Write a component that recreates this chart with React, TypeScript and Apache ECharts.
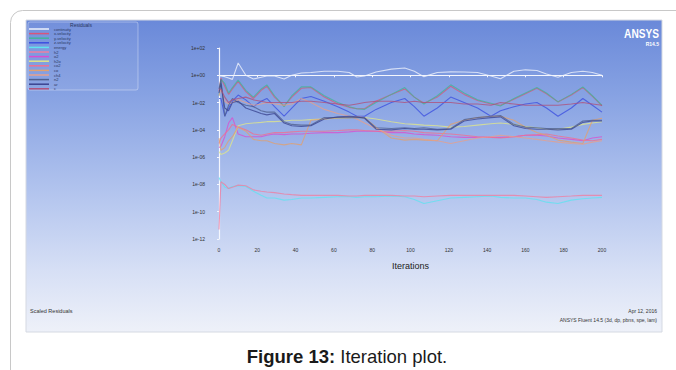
import React, { useEffect, useRef } from "react";
import * as echarts from "echarts";

// Iteration numbers at which residuals were read
const ITER = [0, 1, 3, 5, 7, 10, 14, 18, 22, 25, 29, 34, 38, 43, 48, 55, 62, 68, 72, 76, 82, 90, 97, 102, 107, 114, 121, 128, 135, 142, 147, 154, 160, 166, 171, 177, 184, 190, 195, 200];

// Residual values as log10 exponents
const continuity = [-0.05, -0.05, -0.1, -0.2, -0.3, 0.9, 0.0, -0.27, -0.15, -0.05, -0.05, -0.27, 0.0, 0.17, 0.2, 0.3, 0.3, 0.2, -0.13, -0.05, 0.24, 0.45, 0.53, 0.3, -0.1, 0.2, 0.25, 0.24, 0.2, -0.05, -0.25, 0.3, 0.4, 0.35, 0.1, -0.15, 0.2, 0.3, 0.2, 0.0];
const xVelocity = [-1.2, -0.2, -0.8, -1.4, -1.0, -0.45, -1.2, -1.7, -1.1, -0.8, -1.6, -2.25, -1.6, -0.95, -0.9, -1.6, -2.1, -2.35, -2.45, -2.45, -1.9, -1.4, -1.0, -1.6, -2.05, -1.6, -0.8, -1.4, -1.85, -2.1, -2.2, -1.75, -1.35, -0.95, -1.35, -1.95, -1.45, -0.9, -1.55, -2.25];
const yVelocity = [-1.5, -0.3, -0.6, -1.3, -0.9, -0.35, -1.1, -1.6, -1.0, -0.7, -1.5, -2.3, -1.5, -0.85, -0.85, -1.5, -2.0, -2.3, -2.45, -2.5, -2.0, -1.4, -0.9, -1.6, -2.1, -1.5, -0.7, -1.3, -1.8, -2.05, -2.25, -1.7, -1.3, -0.9, -1.3, -1.95, -1.4, -0.85, -1.5, -2.2];
const zVelocity = [-1.7, -1.7, -3.0, -2.4, -1.9, -1.45, -1.8, -2.3, -1.9, -1.7, -2.3, -3.0, -2.4, -1.7, -1.55, -1.9, -2.3, -2.7, -3.0, -3.0, -2.5, -2.0, -1.7, -2.3, -3.0, -2.4, -1.6, -2.0, -2.4, -3.0, -2.6, -2.3, -2.1, -2.0, -2.4, -3.0, -2.4, -1.7, -2.2, -2.7];
const energy = [-7.5, -7.8, -8.2, -8.3, -8.15, -8.1, -8.15, -8.5, -8.8, -9.0, -9.0, -9.15, -9.1, -9.0, -9.0, -8.95, -8.9, -8.9, -8.95, -8.9, -8.9, -8.85, -8.9, -9.1, -9.4, -9.2, -9.0, -8.95, -8.9, -8.85, -8.95, -9.0, -9.0, -9.1, -9.3, -9.4, -9.15, -9.05, -9.0, -8.95];
const h2 = [-11.3, -7.8, -8.0, -8.3, -8.2, -8.05, -8.1, -8.4, -8.5, -8.55, -8.6, -8.7, -8.75, -8.8, -8.8, -8.8, -8.8, -8.85, -8.85, -8.8, -8.8, -8.8, -8.85, -8.85, -8.9, -8.85, -8.8, -8.8, -8.8, -8.8, -8.8, -8.8, -8.85, -8.9, -8.95, -8.9, -8.85, -8.8, -8.8, -8.8];
const o2 = [-5.3, -5.2, -4.5, -3.5, -3.1, -4.3, -4.5, -4.5, -4.5, -4.4, -4.3, -4.35, -4.3, -4.3, -4.25, -4.2, -4.2, -4.15, -4.1, -4.1, -4.1, -4.2, -4.2, -4.3, -4.35, -4.4, -4.5, -4.55, -4.55, -4.55, -4.55, -4.5, -4.4, -4.4, -4.45, -4.6, -4.7, -4.8, -4.6, -4.5];
const h2o = [-5.6, -5.8, -5.7, -5.5, -4.8, -3.7, -3.55, -3.5, -3.45, -3.4, -3.4, -3.35, -3.3, -3.3, -3.25, -3.2, -3.15, -3.1, -3.1, -3.1, -3.2, -3.4, -3.55, -3.6, -3.65, -3.7, -3.8, -3.75, -3.65, -3.55, -3.5, -3.6, -3.75, -3.85, -3.95, -3.95, -3.8, -3.6, -3.5, -3.4];
const co2 = [-5.0, -4.6, -4.3, -4.0, -3.6, -3.8, -4.0, -4.3, -4.4, -4.3, -4.2, -4.2, -4.15, -4.1, -4.1, -4.1, -4.05, -4.0, -4.0, -4.05, -4.1, -4.1, -4.05, -4.1, -4.2, -4.25, -4.3, -4.4, -4.5, -4.55, -4.6, -4.5, -4.4, -4.35, -4.3, -4.45, -4.6, -4.75, -4.8, -4.7];
const co = [-4.6, -5.5, -5.3, -4.8, -4.5, -3.8, -4.1, -4.7, -4.8, -4.8, -5.0, -5.1, -5.0, -5.1, -3.3, -3.2, -3.1, -3.1, -3.05, -3.1, -3.8, -4.6, -4.75, -4.7, -4.75, -4.8, -3.6, -3.3, -3.1, -3.0, -3.0, -3.3, -3.8, -4.2, -4.4, -4.75, -4.9, -5.0, -3.3, -3.15];
const ch4 = [-1.5, -1.0, -1.9, -2.1, -2.0, -1.8, -2.0, -2.2, -2.1, -2.0, -2.1, -2.2, -2.1, -1.7, -2.0, -2.5, -2.8, -3.0, -3.2, -3.5, -3.9, -4.4, -4.6, -4.6, -4.7, -4.8, -5.0, -4.8, -4.6, -4.5, -4.4, -4.5, -4.6, -4.7, -4.8, -4.9, -5.0, -5.05, -4.9, -4.8];
const n2 = [-1.0, -0.3, -3.0, -2.2, -1.7, -2.0, -2.2, -2.3, -2.6, -2.7, -2.7, -3.4, -3.6, -3.65, -3.65, -3.1, -3.1, -3.1, -3.1, -3.1, -3.85, -3.9, -3.85, -3.9, -3.85, -3.95, -3.9, -3.25, -3.1, -3.0, -2.95, -3.6, -3.8, -3.85, -3.9, -3.9, -3.9, -3.35, -3.3, -3.3];
const ar = [-1.3, -0.6, -2.4, -2.6, -2.0, -1.9, -2.4, -2.6, -2.8, -2.9, -2.8, -3.5, -3.7, -3.75, -3.7, -3.2, -3.05, -3.0, -3.05, -3.15, -3.95, -4.0, -3.9, -3.95, -3.95, -4.0, -3.95, -3.35, -3.2, -3.1, -3.05, -3.7, -3.9, -3.95, -3.95, -4.0, -3.95, -3.45, -3.35, -3.35];
const c = [-1.0, -1.0, -1.6, -2.0, -1.8, -1.7, -1.6, -1.8, -1.9, -2.0, -2.0, -2.0, -2.0, -1.9, -1.9, -2.0, -2.1, -2.2, -2.1, -2.0, -1.9, -1.9, -2.0, -1.9, -2.0, -2.0, -2.0, -2.1, -2.1, -2.2, -2.0, -2.1, -2.2, -2.2, -2.2, -2.2, -2.1, -2.0, -2.1, -2.2];

const SERIES_NAMES = ["continuity", "x-velocity", "y-velocity", "z-velocity", "energy", "h2", "o2", "h2o", "co2", "co", "ch4", "n2", "ar", "c"];
const SERIES_VALUES = [continuity, xVelocity, yVelocity, zVelocity, energy, h2, o2, h2o, co2, co, ch4, n2, ar, c];
const SERIES_COLORS = ["#eef2fc", "#d8557a", "#43b39a", "#3c4fe0", "#5fe3f0", "#ee7fa2", "#d94fd0", "#dfe58a", "#f07090", "#e0a070", "#e6a08c", "#50608e", "#3a4490", "#b0507a"];

const Y_TICKS_EXP = [2, 0, -2, -4, -6, -8, -10, -12];

const fmtExp = (v: number) => {
  const e = Math.round(v);
  const s = e < 0 ? "-" : "+";
  return "1e" + s + String(Math.abs(e)).padStart(2, "0");
};

export default function App() {
  const ref = useRef<HTMLDivElement>(null);
  useEffect(() => {
    if (!ref.current) return;
    const chart = echarts.init(ref.current, undefined, { renderer: "svg" });
    const font = "Liberation Sans, Arial, sans-serif";
    const series = SERIES_NAMES.map((name, k) => ({
      name,
      type: "line",
      showSymbol: false,
      symbol: "none",
      data: ITER.map((it, i) => [it, SERIES_VALUES[k][i]]),
      lineStyle: { width: 1.1, color: SERIES_COLORS[k], opacity: 0.78 },
      itemStyle: { color: SERIES_COLORS[k] },
      z: 3,
    }));
    chart.setOption({
      animation: false,
      textStyle: { fontFamily: font },
      grid: { left: 219, right: 74, top: 48, bottom: 131, containLabel: false },
      legend: {
        orient: "vertical",
        left: 29,
        top: 27,
        padding: 0,
        itemWidth: 20,
        itemHeight: 1.5,
        itemGap: 0.6,
        icon: "rect",
        data: SERIES_NAMES,
        textStyle: { fontSize: 4, lineHeight: 4, color: "#2a3660", padding: [0, 0, 0, 0] },
        selectedMode: false,
      },
      xAxis: {
        type: "value",
        min: 0,
        max: 200,
        interval: 20,
        name: "Iterations",
        nameLocation: "middle",
        nameGap: 22,
        nameTextStyle: { fontSize: 9, color: "#222", fontFamily: font },
        axisLine: { lineStyle: { color: "#f4f6fd", width: 1.2 } },
        axisTick: { show: true, length: 2, lineStyle: { color: "#f4f6fd" } },
        axisLabel: { fontSize: 5, color: "#333", margin: 8 },
        splitLine: { show: false },
      },
      yAxis: {
        type: "value",
        min: -12,
        max: 2,
        interval: 2,
        axisLine: { show: true, lineStyle: { color: "#f4f6fd", width: 1.2 } },
        axisTick: { show: true, length: 2, lineStyle: { color: "#f4f6fd" } },
        axisLabel: { fontSize: 5, color: "#333", margin: 14, formatter: (v: number) => (Y_TICKS_EXP.includes(Math.round(v)) ? fmtExp(v) : "") },
        splitLine: { show: false },
      },
      graphic: [
        { type: "rect", z: -30, silent: true, shape: { x: 10.5, y: 10.5, width: 720, height: 420, r: 12 }, style: { fill: "#ffffff", stroke: "#c8c8c8", lineWidth: 1 } },
        {
          type: "rect", z: -20, silent: true,
          shape: { x: 26, y: 20, width: 636, height: 312 },
          style: {
            fill: new echarts.graphic.LinearGradient(0, 0, 0, 1, [
              { offset: 0, color: "#6a89d9" },
              { offset: 0.25, color: "#88a3e3" },
              { offset: 0.55, color: "#b2c4ee" },
              { offset: 0.8, color: "#d6dff5" },
              { offset: 1, color: "#eef1f9" },
            ]),
            stroke: "#d5d9e2",
            lineWidth: 1,
          },
        },
        { type: "rect", z: -10, silent: true, shape: { x: 28, y: 22, width: 110, height: 68, r: 2 }, style: { fill: "rgba(255,255,255,0.06)", stroke: "rgba(255,255,255,0.35)", lineWidth: 1 } },
        { type: "text", z: 10, silent: true, style: { text: "Residuals", x: 81, y: 25, fontSize: 5, fill: "#2a3660", align: "center", verticalAlign: "middle", fontFamily: font } },
        { type: "text", z: 10, silent: true, x: 659, y: 33, scaleX: 0.78, style: { text: "ANSYS", x: 0, y: 0, fontSize: 13, fontWeight: "bold", fill: "#ffffff", align: "right", verticalAlign: "middle", fontFamily: font } },
        { type: "text", z: 10, silent: true, style: { text: "R14.5", x: 659, y: 44, fontSize: 5, fontWeight: "bold", fill: "#ffffff", align: "right", verticalAlign: "middle", fontFamily: font } },
        { type: "text", z: 10, silent: true, style: { text: "Scaled Residuals", x: 30, y: 311, fontSize: 5.5, fill: "#333", align: "left", verticalAlign: "middle", fontFamily: font } },
        { type: "text", z: 10, silent: true, style: { text: "Apr 12, 2016", x: 657, y: 311, fontSize: 5, fill: "#333", align: "right", verticalAlign: "middle", fontFamily: font } },
        { type: "text", z: 10, silent: true, style: { text: "ANSYS Fluent 14.5 (3d, dp, pbns, spe, lam)", x: 657, y: 320, fontSize: 5, fill: "#333", align: "right", verticalAlign: "middle", fontFamily: font } },
        {
          type: "text", z: 10, silent: true,
          style: {
            text: "{b|Figure 13:} Iteration plot.",
            x: 347, y: 356, fontSize: 18.5, fill: "#1a1a1a", align: "center", verticalAlign: "middle", fontFamily: font,
            rich: { b: { fontSize: 18.5, fontWeight: "bold", fill: "#1a1a1a", fontFamily: font } },
          },
        },
      ],
      series,
    });
    return () => chart.dispose();
  }, []);
  return (
    <div style={{ position: "fixed", left: 0, top: 0, width: 676, height: 370, background: "#fff" }}>
      <div ref={ref} style={{ width: 676, height: 370 }} />
    </div>
  );
}
